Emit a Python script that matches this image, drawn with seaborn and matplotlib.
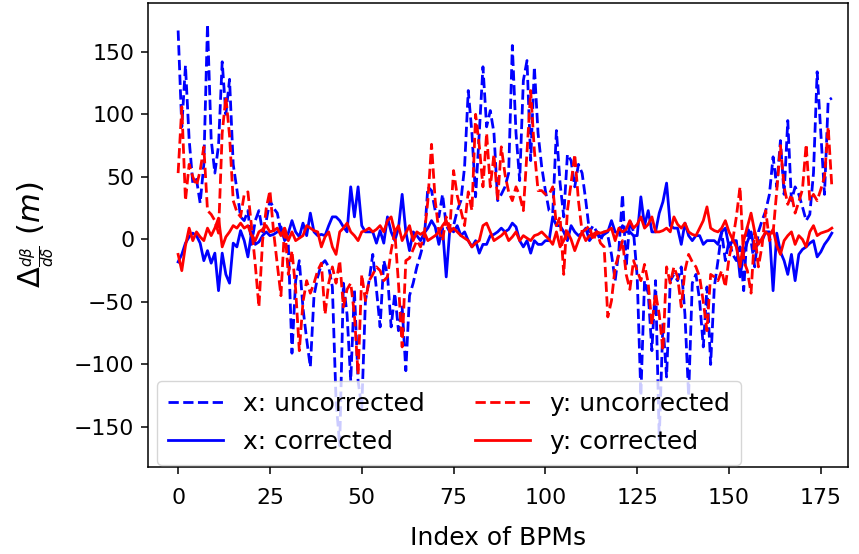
import numpy as np
import pandas as pd
import matplotlib
matplotlib.use("Agg")
import matplotlib.pyplot as plt
import seaborn as sns

# x: uncorrected (blue dashed)
x_uncorrected = [
    167, 90, 139, 80, 45, 48, 29, 60, 172, 80,
    53, 75, 142, 100, 128, 60, 40, 18, 15, 23,
    -4, 15, 23, 6, 15, 31, 25, 21, 6, 8,
    -4, -91, -33, -17, -55, -80, -102, -45, -30, -20,
    -17, -22, -38, -129, -165, -35, -60, -113, -40, -113,
    -135, -49, -33, -12, -40, -70, -17, -28, -70, -43,
    -73, -54, -105, -45, -35, -22, -12, -1, 42, 39,
    23, 18, 36, 11, 6, 11, 23, 31, 58, 119,
    85, 34, 85, 138, 90, 103, 85, 31, 36, 42,
    53, 155, 85, 47, 127, 143, 63, 138, 85, 58,
    39, 23, 21, 87, 45, 18, 68, 63, 42, 60,
    53, 31, 6, 11, 6, -1, 6, 3, -12, -33,
    -9, 36, -22, 15, 6, -30, -125, -33, -43, -89,
    -33, -160, -67, -110, -33, -28, -33, -22, -60, -125,
    -35, -28, -49, -86, -38, -100, -38, -17, 6, -17,
    -1, -12, -17, -6, -41, 11, -1, -22, 6, 15,
    23, 36, 66, 42, 79, 36, 95, 31, 42, 36,
    26, 15, 20, 53, 134, 85, 36, 111, 113,
]

# x: corrected (blue solid)
x_corrected = [
    -18, -12, -3, 2, 5, 3, -3, -17, -9, -19,
    -11, -41, -11, -28, -35, -3, -6, 7, -1, -14,
    6, -4, -2, 3, 6, 3, 4, 6, 10, -1,
    5, 15, 6, 2, 13, 3, 21, 6, 3, 4,
    3, 11, 18, 18, 15, 10, 6, 42, 18, 42,
    11, 6, 6, 6, -3, 7, -3, 18, 6, -1,
    9, 36, 6, -9, 6, 3, -1, 5, 9, 15,
    10, -4, 9, -30, 9, 6, 11, 3, 6, -1,
    -6, -1, -11, -4, -4, 3, 4, 6, 9, 6,
    8, 13, 10, -1, -6, -1, -11, -1, -4, -4,
    -1, -1, 18, 11, 11, 6, -1, 11, 6, 3,
    5, 9, -1, 3, 6, 2, 4, 6, 15, 6,
    5, 11, 6, 6, 3, 3, 34, 11, 23, 6,
    6, 21, 30, 45, 11, 9, 9, -4, 13, 3,
    -1, 3, 3, -4, -1, -1, -1, -4, 6, 9,
    -6, -1, -1, -30, -11, -2, 6, -9, -1, -1,
    6, 6, -41, 5, -10, -17, -28, -12, -33, -12,
    -8, -6, -3, -1, -14, -10, -4, 0, 5,
]

# y: uncorrected (red dashed)
y_uncorrected = [
    53, 106, 31, 60, 50, 43, 55, 74, 23, 20,
    15, 5, 85, 114, 83, 31, 22, 18, 36, 38,
    10, -20, -54, -1, 25, 39, 6, -20, -45, 11,
    -28, -9, -40, -89, -50, -33, -43, -35, -25, -19,
    -60, -35, -22, -35, -17, -54, -40, -35, -60, -108,
    -28, -49, -33, -28, -22, -25, -33, -30, -9, 6,
    -35, -86, -17, -15, -8, -1, -6, 3, 31, 76,
    31, 6, -1, 18, 9, 55, 35, 23, 11, 38,
    23, 100, 75, 42, 85, 42, 68, 31, 74, 52,
    38, 31, 42, 35, 23, 70, 119, 71, 39, 39,
    36, 36, 42, 11, 18, -28, 23, 45, 68, 31,
    6, 8, 11, -1, 6, -3, -6, -62, -49, -22,
    -12, -1, -28, -40, -17, -25, -33, -20, -35, -68,
    -43, -60, -89, -22, -35, -22, -30, -54, -25, -12,
    -18, -22, -30, -50, -73, -28, -30, -33, -25, -38,
    -15, -1, 18, 42, -17, -25, -43, 6, -22, -5,
    23, -1, 5, 39, 75, 42, 28, 36, 21, 30,
    40, 76, 31, 36, 31, 40, 50, 90, 42,
]

# y: corrected (red solid)
y_corrected = [
    -12, -25, -5, 9, -1, 6, 2, -1, 9, 3,
    9, 17, -6, 2, 6, 11, 9, 13, 9, 11,
    3, -1, 6, 8, 11, 6, 7, 9, 3, 9,
    -1, 6, -1, 1, 3, 11, 9, 7, 6, -6,
    2, 6, -6, -12, 6, 9, 13, 6, 3, -1,
    6, 7, 9, 6, 8, 11, 6, 15, 18, 6,
    11, -1, 5, 11, -1, 6, 4, 6, -1, 1,
    3, 6, 11, 15, 6, 9, 6, 3, 1, -1,
    -6, -3, -1, 11, 13, 6, -1, 1, 3, 6,
    -1, 2, 6, -1, 3, 1, -1, 3, 4, 6,
    3, 0, -4, 6, -6, -1, 6, 0, -9, -1,
    6, -1, 3, 4, 6, 5, 6, 7, 9, -1,
    9, 6, 8, 15, 9, 12, 18, 9, 12, 18,
    6, 6, 7, 9, 6, 18, 12, 9, 13, 6,
    4, 3, 9, 15, 26, 9, 7, 6, 9, 15,
    6, 0, -6, -22, -1, 10, 21, 6, -4, 1,
    6, 3, 8, -5, -12, -1, 3, 6, -4, 3,
    0, -6, 6, 11, 3, 5, 6, 7, 9,
]

series_labels = ["x: uncorrected", "x: corrected", "y: uncorrected", "y: corrected"]
x_ticks = [0, 25, 50, 75, 100, 125, 150, 175]
y_ticks = [-150, -100, -50, 0, 50, 100, 150]

n = len(x_uncorrected)
idx = np.arange(n)
df = pd.DataFrame({
    "bpm": idx,
    "xu": x_uncorrected,
    "xc": x_corrected,
    "yu": y_uncorrected,
    "yc": y_corrected,
})

plt.rcParams["font.family"] = ["DejaVu Sans"]
plt.rcParams["mathtext.fontset"] = "dejavusans"

fig = plt.figure(figsize=(8.59, 5.54), dpi=100)
ax = fig.add_axes([0.1723, 0.1570, 0.8149, 0.8376])

styles = [("xu", "blue", "--"), ("xc", "blue", "-"), ("yu", "red", "--"), ("yc", "red", "-")]
for (col, color, ls), lab in zip(styles, series_labels):
    sns.lineplot(data=df, x="bpm", y=col, ax=ax, color=color, linestyle=ls,
                 linewidth=2.0, label=lab, legend=False)

ax.set_xlim(-8.2, 182.4)
ax.set_ylim(-182, 189)
ax.set_xticks(x_ticks)
ax.set_yticks(y_ticks)
ax.tick_params(axis="both", labelsize=15.8, length=4.8, width=1.1, pad=5)
ax.tick_params(axis="x", pad=10)
for s in ax.spines.values():
    s.set_linewidth(1.1)
    s.set_color("black")

ax.set_xlabel("Index of BPMs", fontsize=18, labelpad=13)
ax.set_ylabel(r"$\Delta_{\frac{d\beta}{d\delta}}$ $(m)$", fontsize=22, labelpad=13)

ax.legend(loc="lower left", bbox_to_anchor=(0.013, 0.004), borderaxespad=0,
          ncol=2, fontsize=18, labelspacing=0.56, borderpad=0.45,
          handlelength=2.2, columnspacing=2.0)

fig.savefig("out.png", dpi=100)
